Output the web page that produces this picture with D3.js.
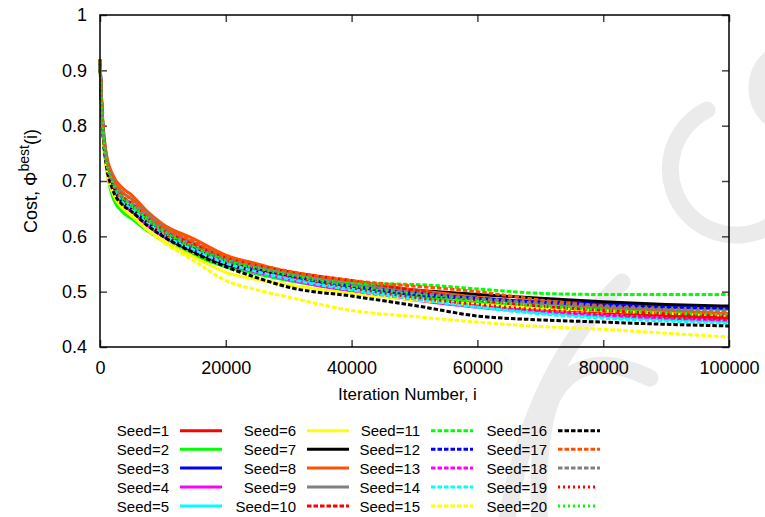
<!DOCTYPE html>
<html><head><meta charset="utf-8">
<script src="https://cdn.jsdelivr.net/npm/d3@7"></script>
<style>body{margin:0;background:#fff}svg{display:block}text{font-family:"Liberation Sans",Arial,sans-serif;fill:#000}</style>
</head><body><svg id="c" width="765" height="517"></svg>
<script>
const iterations = [0,200,500,1000,2000,3500,5000,7500,10000,15000,20000,25000,30000,40000,50000,60000,70000,80000,90000,100000];
const seed1  = [0.915,0.855,0.79,0.735,0.695,0.665,0.65,0.625,0.603,0.575,0.553,0.54,0.527,0.507,0.492,0.478,0.469,0.463,0.457,0.452];
const seed2  = [0.91,0.85,0.78,0.725,0.672,0.645,0.632,0.61,0.592,0.565,0.545,0.532,0.52,0.503,0.49,0.48,0.473,0.468,0.464,0.46];
const seed3  = [0.915,0.855,0.785,0.73,0.69,0.66,0.647,0.622,0.602,0.575,0.553,0.538,0.526,0.507,0.495,0.487,0.482,0.478,0.475,0.472];
const seed4  = [0.915,0.855,0.785,0.73,0.688,0.66,0.645,0.62,0.6,0.572,0.55,0.535,0.522,0.5,0.485,0.472,0.463,0.457,0.452,0.448];
const seed5  = [0.915,0.855,0.79,0.735,0.695,0.668,0.655,0.632,0.612,0.58,0.556,0.54,0.526,0.505,0.488,0.473,0.462,0.455,0.45,0.446];
const seed6  = [0.91,0.85,0.78,0.725,0.68,0.652,0.638,0.612,0.592,0.562,0.535,0.522,0.512,0.497,0.485,0.477,0.47,0.465,0.461,0.458];
const seed7  = [0.915,0.855,0.785,0.73,0.69,0.662,0.648,0.625,0.602,0.572,0.55,0.538,0.53,0.515,0.503,0.495,0.488,0.482,0.477,0.474];
const seed8  = [0.92,0.86,0.8,0.75,0.712,0.688,0.675,0.645,0.622,0.595,0.566,0.55,0.535,0.518,0.503,0.49,0.48,0.472,0.466,0.46];
const seed9  = [0.92,0.86,0.795,0.745,0.705,0.68,0.668,0.642,0.618,0.588,0.562,0.547,0.535,0.515,0.5,0.488,0.48,0.475,0.471,0.468];
const seed10 = [0.92,0.855,0.79,0.74,0.7,0.673,0.66,0.635,0.612,0.585,0.561,0.547,0.536,0.52,0.502,0.485,0.474,0.466,0.46,0.455];
const seed11 = [0.915,0.855,0.79,0.735,0.695,0.668,0.655,0.63,0.608,0.58,0.557,0.543,0.532,0.515,0.513,0.505,0.497,0.495,0.495,0.495];
const seed12 = [0.915,0.855,0.785,0.73,0.692,0.665,0.65,0.625,0.605,0.577,0.553,0.54,0.528,0.51,0.497,0.488,0.481,0.476,0.472,0.47];
const seed13 = [0.915,0.85,0.785,0.73,0.69,0.662,0.648,0.622,0.602,0.574,0.551,0.536,0.524,0.502,0.487,0.474,0.464,0.457,0.451,0.447];
const seed14 = [0.915,0.855,0.785,0.73,0.69,0.663,0.65,0.625,0.604,0.575,0.552,0.536,0.523,0.503,0.487,0.472,0.46,0.452,0.447,0.443];
const seed15 = [0.91,0.85,0.78,0.725,0.68,0.652,0.638,0.612,0.59,0.555,0.52,0.503,0.49,0.466,0.455,0.445,0.437,0.432,0.425,0.418];
const seed16 = [0.915,0.85,0.785,0.73,0.685,0.658,0.645,0.62,0.6,0.57,0.545,0.525,0.508,0.492,0.475,0.456,0.449,0.445,0.441,0.438];
const seed17 = [0.92,0.86,0.795,0.745,0.705,0.68,0.667,0.64,0.617,0.59,0.563,0.549,0.537,0.52,0.51,0.5,0.485,0.474,0.467,0.462];
const seed18 = [0.915,0.855,0.79,0.74,0.7,0.672,0.66,0.635,0.612,0.582,0.558,0.544,0.532,0.512,0.498,0.487,0.479,0.473,0.468,0.465];
const seed19 = [0.915,0.855,0.79,0.735,0.695,0.668,0.655,0.63,0.608,0.58,0.556,0.541,0.528,0.507,0.49,0.477,0.467,0.46,0.454,0.45];
const seed20 = [0.915,0.855,0.79,0.738,0.698,0.67,0.657,0.632,0.61,0.58,0.556,0.542,0.53,0.51,0.495,0.483,0.474,0.467,0.462,0.458];
const seriesNames = ["Seed=1","Seed=2","Seed=3","Seed=4","Seed=5","Seed=6","Seed=7","Seed=8","Seed=9","Seed=10",
  "Seed=11","Seed=12","Seed=13","Seed=14","Seed=15","Seed=16","Seed=17","Seed=18","Seed=19","Seed=20"];
const seriesValues = [seed1,seed2,seed3,seed4,seed5,seed6,seed7,seed8,seed9,seed10,seed11,seed12,seed13,seed14,seed15,seed16,seed17,seed18,seed19,seed20];
const xTicks = [0,20000,40000,60000,80000,100000];
const yTicks = [0.4,0.5,0.6,0.7,0.8,0.9,1];
const xLabel = "Iteration Number, i";

const colors = ["#ff0000","#00ff00","#0000ff","#ff00ff","#00ffff","#ffff00","#000000","#ff5000","#808080",
  "#ff0000","#00ff00","#0000ff","#ff00ff","#00ffff","#ffff00","#000000","#ff5000","#808080","#ff0000","#00ff00"];
const dashOf = i => i < 9 ? null : (i < 18 ? "4.5,2" : "2,3");

const svg = d3.select("#c");
const L=100,R=729,T=15,B=347;
const x = d3.scaleLinear().domain([0,100000]).range([L,R]);
const y = d3.scaleLinear().domain([0.4,1]).range([B,T]);

// watermark
const wm = svg.append("g").attr("fill","none").attr("stroke","#ebebeb").attr("stroke-width",17).attr("stroke-linecap","round");
wm.append("path").attr("d","M707,110 A66,66 0 1 0 793,203");
wm.append("circle").attr("cx",797).attr("cy",88).attr("r",40);
wm.append("path").attr("d","M622,282 Q530,370 505,530");
wm.append("path").attr("d","M650,378 Q580,345 552,398 Q535,440 540,530");

// axes with inward ticks
const tickCol="#444";
const gx=svg.append("g").attr("transform",`translate(0,${B})`).call(d3.axisBottom(x).tickValues(xTicks).tickSizeInner(-7).tickSizeOuter(0).tickPadding(14).tickFormat(d3.format("d")));
const gxt=svg.append("g").attr("transform",`translate(0,${T})`).call(d3.axisTop(x).tickValues(xTicks).tickSizeInner(-7).tickSizeOuter(0).tickFormat(""));
const gy=svg.append("g").attr("transform",`translate(${L},0)`).call(d3.axisLeft(y).tickValues(yTicks).tickSizeInner(-7).tickSizeOuter(0).tickPadding(13).tickFormat(d=>d===1?"1":d3.format(".1f")(d)));
const gyr=svg.append("g").attr("transform",`translate(${R},0)`).call(d3.axisRight(y).tickValues(yTicks).tickSizeInner(-7).tickSizeOuter(0).tickFormat(""));
[gx,gxt,gy,gyr].forEach(g=>{g.select(".domain").remove();g.selectAll("line").attr("stroke",tickCol).attr("stroke-width",1.5);g.selectAll("text").attr("font-size",18).attr("font-family","Liberation Sans, Arial, sans-serif").attr("fill","#000");});

// lines
const line = d3.line().x((d,i)=>x(iterations[i])).y(d=>y(d)).curve(d3.curveMonotoneX);
const lg = svg.append("g").attr("fill","none").attr("stroke-width",3);
seriesValues.forEach((vals,i)=>{
  lg.append("path").attr("d",line(vals)).attr("stroke",colors[i]).attr("stroke-dasharray",dashOf(i));
});

// frame
svg.append("rect").attr("x",L).attr("y",T).attr("width",R-L).attr("height",B-T).attr("fill","none").attr("stroke","#000").attr("stroke-width",1.5);

// axis titles
svg.append("text").attr("x",338).attr("y",400).attr("font-size",17).text(xLabel);
const yl = svg.append("text").attr("transform","translate(37,181) rotate(-90)").attr("text-anchor","middle").attr("font-size",18);
yl.append("tspan").text("Cost, \u03A6");
yl.append("tspan").attr("font-size",14).attr("dy",-8).text("best");
yl.append("tspan").attr("dy",8).text("(i)");

// legend
const colTextEnd=[169,296,420,547];
const rowY=[430.7,449.3,468,487,506];
seriesNames.forEach((name,i)=>{
  const c=Math.floor(i/5), r=i%5;
  const g=svg.append("g");
  g.append("text").attr("x",colTextEnd[c]).attr("y",rowY[r]+5.5).attr("text-anchor","end").attr("font-size",15).text(name);
  const len = i>=18 ? 40 : 42;
  g.append("line").attr("x1",colTextEnd[c]+11).attr("x2",colTextEnd[c]+11+len).attr("y1",rowY[r]).attr("y2",rowY[r])
    .attr("stroke",colors[i]).attr("stroke-width",3).attr("stroke-dasharray",dashOf(i));
});
</script></body></html>
